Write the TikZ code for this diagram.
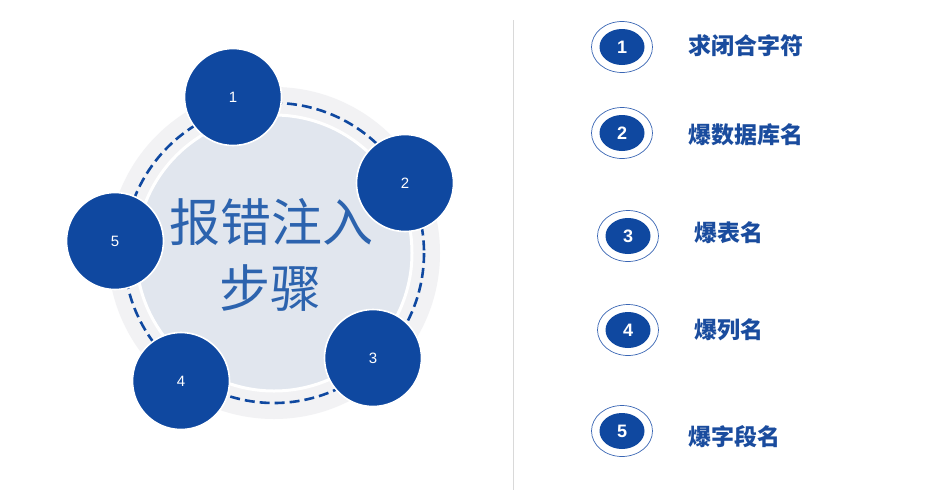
\documentclass[tikz,border=0pt]{standalone}
\usepackage{fontspec}
\setmainfont{Liberation Sans}
\newfontfamily\cjk{Noto Sans CJK SC}
\definecolor{dblue}{HTML}{0F48A0}
\definecolor{tblue}{HTML}{1A4C9E}
\definecolor{lblue}{HTML}{3A66B4}
\definecolor{ringgrey}{HTML}{F2F2F4}
\definecolor{discgrey}{HTML}{E1E6EE}
\definecolor{divgrey}{HTML}{D9D9D9}
\definecolor{titleblue}{HTML}{2C63AE}
\tikzset{
  bigstep/.style={circle, fill=dblue, draw=white, line width=1.6pt, minimum size=97pt, inner sep=0pt, text=white, font=\fontsize{15}{15}\selectfont},
  outerring/.style={ellipse, draw=lblue, line width=0.7pt, fill=white, minimum width=61pt, minimum height=51pt, inner sep=0pt},
  innernum/.style={ellipse, fill=dblue, minimum width=45pt, minimum height=36pt, inner sep=0pt, text=white, font=\bfseries\fontsize{18}{18}\selectfont},
  steplabel/.style={anchor=west, text=tblue, font=\cjk\bfseries\fontsize{23}{23}\selectfont, inner sep=0pt},
  titletext/.style={text=titleblue, font=\cjk\fontsize{51}{51}\selectfont, inner sep=0pt}
}
\usetikzlibrary{shapes.geometric}
\begin{document}
\begin{tikzpicture}[x=1pt,y=-1pt]
\useasboundingbox (0,0) rectangle (945,499);
\fill[white] (0,0) rectangle (945,499);
% left composition
\fill[ringgrey] (274,253) circle (166);
\draw[white, line width=3pt, fill=discgrey] (274,253) circle (138);
\draw[dblue, line width=2.6pt, dash pattern=on 10pt off 5pt] (274,253) circle (150);
\node[bigstep] (c1) at (233,97) {1};
\node[bigstep] (c2) at (405,183) {2};
\node[bigstep] (c3) at (373,358) {3};
\node[bigstep] (c4) at (181,381) {4};
\node[bigstep] (c5) at (115,241) {5};
\node[titletext] (t1) at (271,222) {报错注入};
\node[titletext] (t2) at (270,288) {步骤};
% divider
\draw[divgrey, line width=1pt] (513,20) -- (513,490);
% right list
\node[outerring] (o1) at (622,47) {};
\node[innernum] (n1) at (622,47) {1};
\node[steplabel] (l1) at (688,46) {求闭合字符};
\node[outerring] (o2) at (622,133) {};
\node[innernum] (n2) at (622,133) {2};
\node[steplabel] (l2) at (688,135) {爆数据库名};
\node[outerring] (o3) at (628,236) {};
\node[innernum] (n3) at (628,236) {3};
\node[steplabel] (l3) at (694,233) {爆表名};
\node[outerring] (o4) at (628,330) {};
\node[innernum] (n4) at (628,330) {4};
\node[steplabel] (l4) at (694,330) {爆列名};
\node[outerring] (o5) at (622,431) {};
\node[innernum] (n5) at (622,431) {5};
\node[steplabel] (l5) at (688,437) {爆字段名};
\end{tikzpicture}
\end{document}
